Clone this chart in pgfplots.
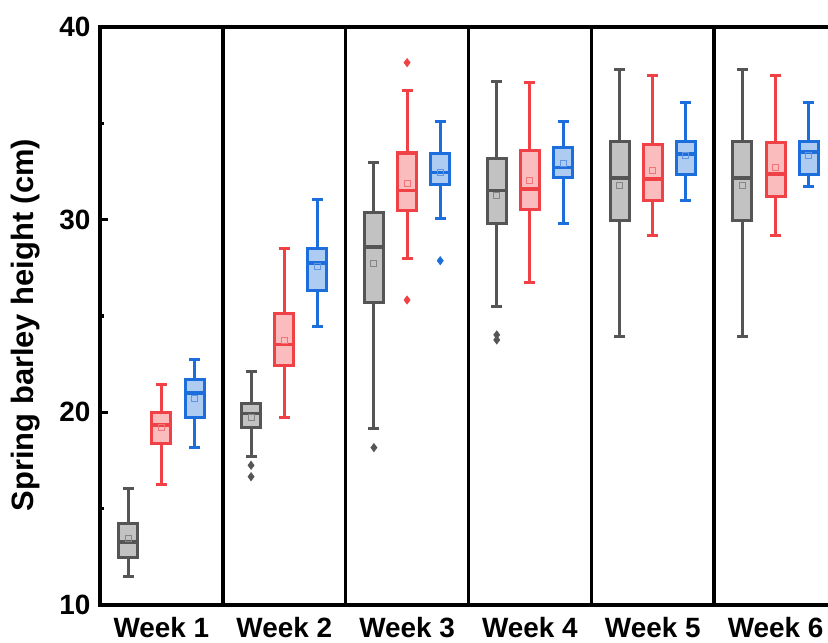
\documentclass[border=0pt]{standalone}
\usepackage{fontspec}
\setmainfont{Liberation Sans}
\usepackage{pgfplots}
\usepackage{pgfplotstable}
\pgfplotsset{compat=1.18}
\definecolor{cg}{HTML}{555555}
\definecolor{cgf}{HTML}{C2C2C2}
\definecolor{cgm}{HTML}{858585}
\definecolor{cr}{HTML}{F04246}
\definecolor{crf}{HTML}{FBBCBE}
\definecolor{crm}{HTML}{F27478}
\definecolor{cb}{HTML}{1C6EDC}
\definecolor{cbf}{HTML}{AECBF1}
\definecolor{cbm}{HTML}{5F95E3}
% x: draw position; lw/uw: whiskers; lq/uq: quartiles; med: median; avg: mean
\pgfplotstableread{
x    lw    lq    med   uq    uw    avg
0.73 11.46 12.48 13.27 14.21 16.06 13.45
1.73 17.69 19.23 19.95 20.44 22.10 19.74
2.73 19.17 25.71 28.57 30.38 32.98 27.74
3.73 25.47 29.78 31.52 33.20 37.18 31.28
4.73 23.96 29.98 32.15 34.07 37.80 31.77
5.73 23.96 29.98 32.15 34.07 37.80 31.77
}\grayT
\pgfplotstableread{
x    lw    lq    med   uq    uw    avg
1.00 16.28 18.40 19.35 20.00 21.46 19.20
2.00 19.71 22.41 23.53 25.12 28.52 23.72
3.00 28.00 30.49 31.52 33.46 36.71 31.87
4.00 26.75 30.54 31.58 33.57 37.13 32.01
5.00 29.19 30.99 32.10 33.91 37.49 32.54
6.00 29.19 31.19 32.37 34.02 37.49 32.72
}\redT
\pgfplotstableread{
x    lw    lq    med   uq    uw    avg
1.27 18.15 19.74 21.00 21.68 22.75 20.73
2.27 24.48 26.30 27.74 28.52 31.06 27.56
3.27 30.07 31.80 32.46 33.44 35.11 32.46
4.27 29.81 32.18 32.72 33.77 35.11 32.93
5.27 31.01 32.36 33.41 34.08 36.09 33.31
6.27 31.73 32.36 33.50 34.08 36.09 33.34
}\blueT
\pgfplotsset{
  whisk/.style={draw=none, no markers, forget plot,
    error bars/.cd, y dir=both, y explicit, error mark=-,
    error bar style={draw=#1, solid, line width=3bp},
    error mark options={draw=#1, solid, rotate=90, line width=3bp, mark size=5.5bp}},
  boxout/.style={draw=none, no markers, forget plot,
    error bars/.cd, y dir=plus, y explicit, error mark=none,
    error bar style={draw=#1, solid, line width=22bp}},
  boxin/.style={draw=none, no markers, forget plot,
    error bars/.cd, y dir=plus, y explicit, error mark=none,
    error bar style={draw=#1, solid, line width=16bp}},
  medl/.style={draw=none, no markers, forget plot,
    error bars/.cd, x dir=both, x fixed=0.088, error mark=none,
    error bar style={draw=#1, solid, line width=3.5bp}},
  meanm/.style={only marks, mark=square, mark size=3bp, forget plot,
    mark options={draw=#1, line width=1bp, fill=none}},
  outl/.style={only marks, mark=diamond*, mark size=4.2bp, forget plot,
    mark options={draw=#1, fill=#1, line width=0.5bp}},
}
\newcommand{\drawgroup}[4]{%
  \addplot[whisk=#2] table[x=x, y=med, y error plus expr={\thisrow{uw}-\thisrow{med}}, y error minus expr={\thisrow{med}-\thisrow{lw}}] {#1};
  \addplot[boxout=#2] table[x=x, y expr={\thisrow{lq}-0.078}, y error plus expr={\thisrow{uq}-\thisrow{lq}+0.156}] {#1};
  \addplot[boxin=#3] table[x=x, y expr={\thisrow{lq}+0.078}, y error plus expr={\thisrow{uq}-\thisrow{lq}-0.156}] {#1};
  \addplot[medl=#2] table[x=x, y=med] {#1};
  \addplot[meanm=#4] table[x=x, y=avg] {#1};
}
\begin{document}
\begin{tikzpicture}
\begin{axis}[
  name=ax, at={(0,0)}, anchor=south west,
  scale only axis, width=737bp, height=578bp,
  xmin=0.5, xmax=6.5, ymin=10, ymax=40,
  axis line style={line width=4bp, black},
  ytick={10,20,30,40}, minor ytick={15,25,35},
  ytick pos=left, tick align=inside,
  major tick length=8bp, minor tick length=4bp,
  tick style={black, line width=3.5bp},
  xtick={1,2,3,4,5,6},
  xticklabels={Week 1,Week 2,Week 3,Week 4,Week 5,Week 6},
  xtick style={draw=none},
  extra x ticks={1.5,2.5,3.5,4.5,5.5},
  extra x tick labels={},
  extra x tick style={grid=major, major grid style={black, line width=3.5bp}},
  /pgf/number format/assume math mode=true,
  yticklabel style={font=\bfseries\fontsize{28}{32}\selectfont, xshift=-6bp},
  xticklabel style={font=\bfseries\fontsize{28}{32}\selectfont, yshift=-9bp},
  ylabel={Spring barley height (cm)},
  every axis y label/.style={at={(axis description cs:0,0.5)}, rotate=90, anchor=center, yshift=74bp, xshift=-9bp, font=\bfseries\fontsize{31}{36}\selectfont},
]
\drawgroup{\grayT}{cg}{cgf}{cgm}
\drawgroup{\redT}{cr}{crf}{crm}
\drawgroup{\blueT}{cb}{cbf}{cbm}
% outliers
\addplot[outl=cg] coordinates {(1.73,17.25) (1.73,16.66) (2.73,18.17) (3.73,24.02) (3.73,23.76)};
\addplot[outl=cr] coordinates {(3.00,38.15) (3.00,25.83)};
\addplot[outl=cb] coordinates {(3.27,27.87)};
\end{axis}
\pgfresetboundingbox
\useasboundingbox (-100bp,-38bp) rectangle (728bp,605bp);
\end{tikzpicture}
\end{document}
